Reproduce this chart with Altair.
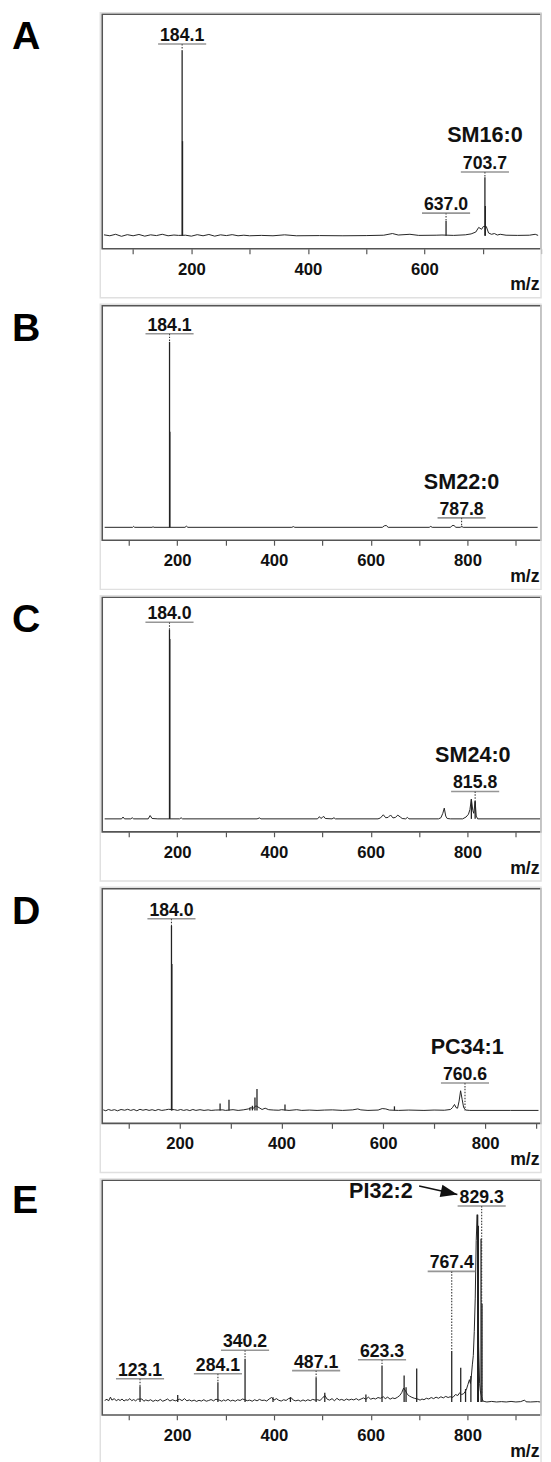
import altair as alt
import pandas as pd

FONT = "Liberation Sans, Arial, Helvetica, sans-serif"
W = 447
H = 239
Y_DOMAIN = [-7, 119.5]

# ---------------- Panel A ----------------
a_base_mz = [50, 60, 70, 80, 90, 100, 110, 120, 130, 140, 150, 160, 170, 178, 190, 200, 210, 220, 230, 240,
             250, 260, 270, 280, 290, 300, 320, 340, 360, 380, 420, 460, 500, 530, 545, 555, 575, 590, 620, 630,
             650, 670, 680, 688, 693, 698, 701, 706, 710, 715, 720, 725, 730, 740, 760, 780, 790, 795]
a_base_int = [0.5, 0, 0.8, -0.3, 0.6, 0, 0.7, -0.2, 0.5, 0.1, 0.8, 0, 0.4, 0.2, 0.3, -0.2, 0.6, 0, 0.7, -0.2,
              0.5, 0.1, 0.6, 0, 0.3, 0, 0.2, 0, 0.5, 0, 0.1, 0, 0.1, 0.3, 1.2, 0.4, 0.8, 0.2, 0.3, 0.4,
              0.2, 0.5, 1.0, 2.0, 4.5, 3.5, 5.0, 5.0, 1.5, 0.8, 1.2, 0.4, 0.8, 0.3, 0.2, 0.3, 0.8, 0.2]
a_peak_mz = [184.1, 184.8, 637.0, 703.7, 704.4]
a_peak_int = [100, 51, 8.0, 31.5, 16]
a_lab_mz = [184.1, 637.0, 703.7]
a_lab_text = ["184.1", "637.0", "703.7"]
a_lab_level = [103.4, 12.2, 34.4]
a_lab_end = [100, 8.0, 31.5]
a_name = ["SM16:0"]
a_name_mz = [703.7]
a_name_level = [50.5]

# ---------------- Panel B ----------------
b_base_mz = [50, 108, 110, 112, 148, 150, 152, 216, 219, 222, 437, 440, 443, 624, 628, 632, 636, 721, 724, 727,
             765, 768, 772, 776, 785, 788, 791, 945]
b_base_int = [0, 0, 0.5, 0, 0, 0.3, 0, 0, 0.6, 0, 0, 0.4, 0, 0, 0.8, 1.0, 0, 0, 0.5, 0,
              0, 0.9, 1.0, 0, 0, 0.5, 0, 0]
b_peak_mz = [184.1, 184.8]
b_peak_int = [100, 51.5]
b_lab_mz = [184.1, 787.8]
b_lab_text = ["184.1", "787.8"]
b_lab_level = [104.4, 5.1]
b_lab_end = [100, 0]
b_name = ["SM22:0"]
b_name_mz = [787.8]
b_name_level = [20.9]

# ---------------- Panel C ----------------
c_base_mz = [50, 85, 88, 91, 104, 107, 110, 140, 144, 148, 160, 205, 208, 211, 365, 370, 373, 490, 494, 497,
             500, 503, 506, 520, 524, 527, 615, 620, 626, 631, 636, 641, 646, 651, 656, 661, 665, 672, 676, 679,
             740, 745, 749, 752, 755, 758, 765, 790, 797, 802, 805, 808, 811, 813, 815.8, 818, 821, 830, 950]
c_base_int = [0, 0, 1.0, 0, 0, 0.6, 0, 0, 1.8, 0.2, 0, 0, 0.6, 0, 0, 0.5, 0, 0, 1.2, 0.2,
              0.8, 1.3, 0.2, 0, 0.6, 0, 0, 0.5, 2.2, 0.6, 0.8, 2.1, 0.5, 0.8, 2.0, 1.0, 0.2, 0, 0.8, 0,
              0, 0.6, 3.0, 5.8, 1.5, 0.2, 0, 0, 1.0, 2.5, 5.0, 10.6, 4.5, 3.0, 9.5, 1.5, 0, 0, 0]
c_peak_mz = [184.0, 184.7, 808.0, 815.8]
c_peak_int = [102, 97, 10.6, 9.5]
c_lab_mz = [184.0, 815.8]
c_lab_text = ["184.0", "815.8"]
c_lab_level = [106, 14.8]
c_lab_end = [102, 9.5]
c_name = ["SM24:0"]
c_name_mz = [811]
c_name_level = [30.4]

# ---------------- Panel D ----------------
d_base_mz = [50, 55, 60, 66, 72, 78, 85, 92, 98, 104, 110, 116, 122, 128, 134, 140, 146, 152, 158, 165,
             172, 178, 190, 196, 202, 208, 214, 220, 226, 232, 240, 248, 256, 262, 270, 285, 290, 305, 315, 325,
             335, 340, 344, 350, 356, 362, 368, 375, 385, 395, 400, 415, 430, 440, 455, 470, 485, 500, 520, 540,
             550, 556, 570, 590, 598, 605, 612, 630, 650, 680, 700, 720, 732, 736, 740, 743, 746, 749, 752, 755,
             758, 762, 770, 850, 905]
d_base_int = [0.3, -0.2, 0.5, 0, 0.4, -0.2, 0.5, 0.1, 0.6, 0, 0.5, -0.2, 0.6, 0.1, 0.5, 0, 0.4, -0.1, 0.5, 0,
              0.3, 0.6, 0.4, 0, 0.5, 0, 0.4, -0.1, 0.5, 0, 0.4, 0, 0.3, 0, 0.2, 0.3, 0, 0.4, 0, 0.3,
              0.8, 1.5, 1.0, 2.5, 1.5, 0.5, 1.2, 0.4, 0.2, 0.1, 0.4, 0, 0.4, 0, 0.2, 0, 0.2, 0.3, 0, 0.3,
              0.8, 0.3, 0, 0.2, 1.0, 0.8, 0.2, 0, 0.2, 0, 0.2, 0.1, 0.5, 1.5, 3.2, 1.5, 1.2, 5.0, 10.6, 6.0,
              1.5, 0.2, 0, 0, 0]
d_peak_mz = [184.0, 184.8, 279.5, 297.0, 338.0, 343.0, 348.0, 352.0, 407.0, 622.0]
d_peak_int = [99.5, 79, 3.7, 5.8, 1.5, 2.5, 7.0, 11.6, 3.2, 2.2]
d_lab_mz = [184.0, 760.6]
d_lab_text = ["184.0", "760.6"]
d_lab_level = [103.3, 14.8]
d_lab_end = [99.5, 0]
d_name = ["PC34:1"]
d_name_mz = [765]
d_name_level = [30.4]

# ---------------- Panel E ----------------
e_base_mz = [50, 55, 58, 62, 65, 70, 74, 78, 82, 86, 90, 94, 98, 102, 106, 110, 114, 118, 127, 131,
             135, 140, 145, 150, 155, 160, 165, 170, 175, 180, 185, 190, 196, 205, 210, 215, 220, 225, 230, 235,
             240, 245, 250, 255, 260, 265, 270, 275, 280, 288, 292, 296, 300, 305, 310, 315, 320, 325, 330, 335,
             345, 350, 355, 360, 365, 370, 375, 380, 385, 390, 395, 400, 405, 410, 415, 420, 425, 430, 436, 440,
             445, 450, 455, 460, 465, 470, 475, 480, 485, 490, 495, 500, 505, 510, 515, 520, 525, 530, 535, 540,
             545, 550, 555, 560, 565, 570, 575, 580, 585, 590, 595, 600, 605, 610, 615, 620, 626, 630, 635, 640,
             645, 650, 655, 660, 664, 668, 672, 676, 680, 685, 690, 698, 702, 706, 710, 715, 720, 725, 730, 735,
             740, 745, 750, 755, 760, 764, 770, 775, 780, 784, 788, 792, 795, 798, 801, 804, 806, 808, 810, 812,
             814, 816, 818, 820, 821.5, 823, 825, 826.5, 828, 830, 832, 836, 840, 850, 860, 870, 880, 890, 900, 910,
             918, 921, 930, 945, 950]
e_base_int = [0.8, 1.5, 0.5, 2.6, 1.0, 1.8, 0.6, 1.4, 0.8, 1.6, 0.5, 1.2, 0.9, 1.8, 0.7, 1.3, 0.6, 1.5, 1.6, 0.4,
              1.1, 0.6, 1.2, 0.3, 1.0, 0.5, 1.4, 0.4, 0.9, 1.6, 0.5, 1.2, 0.6, 1.5, 0.7, 1.8, 0.6, 1.1, 0.5, 1.0,
              0.3, 0.9, 0.5, 1.2, 0.4, 0.8, 1.3, 0.6, 1.5, 0.9, 0.4, 1.1, 0.6, 1.4, 0.5, 1.0, 0.4, 1.2, 0.8, 1.6,
              0.7, 1.0, 0.4, 1.2, 0.6, 1.4, 0.8, 1.0, 0.5, 1.6, 2.4, 1.0, 1.8, 0.9, 0.5, 1.2, 0.8, 1.8, 2.2, 1.0,
              0.6, 1.0, 0.4, 1.1, 0.5, 1.2, 0.7, 1.4, 1.0, 1.2, 0.8, 2.0, 3.5, 1.5, 1.0, 1.8, 0.6, 2.0, 1.0, 1.4,
              0.8, 1.6, 1.0, 1.5, 1.1, 1.8, 1.0, 1.6, 2.2, 1.4, 2.6, 1.5, 2.0, 1.6, 2.4, 2.0, 2.8, 1.8, 2.6, 1.5,
              2.2, 1.8, 2.5, 3.5, 5.0, 7.5, 6.0, 4.0, 3.2, 2.5, 2.0, 1.5, 1.0, 1.6, 1.2, 2.0, 1.6, 2.4, 1.8, 2.6,
              2.0, 2.8, 2.2, 3.0, 2.4, 2.8, 2.5, 4.0, 3.5, 5.0, 4.0, 4.5, 5.5, 7.0, 9.5, 12, 10, 14, 20, 25,
              38, 56, 87, 101, 75, 30, 10, 6, 4, 2, 0.5, 0.2, 0, 0.3, 0, 0.2, 0, 0.3, 0, 0.2,
              1.0, 0.1, 0, 0.2, 0]
e_peak_mz = [123.1, 201.0, 284.1, 340.2, 398.0, 434.0, 487.1, 505.0, 590.0, 623.3, 669.0, 673.0, 695.0,
             767.4, 786.0, 796.0, 807.0, 821.0, 822.5, 828.0, 830.0]
e_peak_int = [8.5, 3.7, 10.6, 23.3, 2.6, 2.6, 13.2, 5.0, 4.0, 19.6, 14.3, 8.0, 18.0,
              27.5, 18.5, 7.0, 14.0, 101, 95, 88, 53]
e_lab_mz = [123.1, 284.1, 340.2, 487.1, 623.3, 767.4, 829.3]
e_lab_text = ["123.1", "284.1", "340.2", "487.1", "623.3", "767.4", "829.3"]
e_lab_level = [12.5, 15.2, 27.9, 16.9, 22.8, 70.4, 105.7]
e_lab_end = [8.5, 10.6, 23.3, 13.2, 19.6, 27.5, 0]
e_name = ["PI32:2"]
e_name_mz = [621]
e_name_level = [109.8]
e_arrow_from = [700, 116.5]
e_arrow_to = [779, 111.9]

letters = ["A", "B", "C", "D", "E"]
domains = [[47, 800], [45, 952], [45, 952], [48, 910], [45, 952]]
tick_values = [[100, 200, 300, 400, 500, 600, 700, 800]] + [[100, 200, 300, 400, 500, 600, 700, 800, 900]] * 4
label_values = [[200, 400, 600], [200, 400, 600, 800], [200, 400, 600, 800], [200, 400, 600, 800], [200, 400, 600, 800]]


def panel(letter, domain, ticks, shown, base_mz, base_int, peak_mz, peak_int,
          lab_mz, lab_text, lab_level, lab_end, name, name_mz, name_level, arrow=None, letter_y=35.5):
    xs = alt.Scale(domain=domain, nice=False, zero=False)
    ys = alt.Scale(domain=Y_DOMAIN, nice=False, zero=False)
    expr = "indexof([" + ",".join(str(v) for v in shown) + "], datum.value) >= 0 ? datum.label : ''"
    ax = alt.Axis(values=ticks, labelExpr=expr, grid=False, domain=False,
                  ticks=True, tickSize=5, tickColor="#555", tickWidth=1.2,
                  labelFont=FONT, labelFontSize=17, labelFontWeight="bold", labelColor="#111",
                  labelBaseline="alphabetic", labelPadding=21, labelFlush=False, labelOverlap=False,
                  title="m/z", titleFont=FONT, titleFontSize=18, titleFontWeight="bold", titleColor="#111",
                  titleX=W - 2, titleY=42, titleAlign="right", titleBaseline="alphabetic")

    def X(f):
        return alt.X(f, type="quantitative", scale=xs, axis=ax)

    def Y(f):
        return alt.Y(f, type="quantitative", scale=ys, axis=None)

    base_df = pd.DataFrame({"mz": base_mz, "v": base_int})
    peak_df = pd.DataFrame({"mz": peak_mz, "v": peak_int})
    peak_df["lo"] = 0
    lab_df = pd.DataFrame({"mz": lab_mz, "t": lab_text, "lv": lab_level, "le": lab_end})
    name_df = pd.DataFrame({"mz": name_mz, "t": name, "lv": name_level})
    letter_df = pd.DataFrame({"t": [letter]})

    frame = alt.Chart(letter_df).mark_rect(fill=None, stroke="#e0e0e0", strokeWidth=1.5).encode(
        x=alt.value(-2), x2=alt.value(W), y=alt.value(-1.5), y2=alt.value(H + 50))
    line = alt.Chart(base_df).mark_line(color="#222", strokeWidth=1, interpolate="linear").encode(
        x=X("mz"), y=Y("v"), order=alt.Order("mz:Q"))
    peaks = alt.Chart(peak_df).mark_rule(color="#222", strokeWidth=1.3).encode(
        x=X("mz"), y=Y("lo"), y2=alt.Y2("v"))
    dots = alt.Chart(lab_df).mark_rule(color="#333", strokeWidth=1.1, strokeDash=[1.5, 1.5]).encode(
        x=X("mz"), y=Y("lv"), y2=alt.Y2("le"))
    under = alt.Chart(lab_df).mark_tick(orient="horizontal", size=49, thickness=1.6, color="#6a6a6a").encode(
        x=X("mz"), y=Y("lv"))
    labs = alt.Chart(lab_df).mark_text(font=FONT, fontSize=18, fontWeight="bold", color="#111",
                                        baseline="alphabetic", align="center", dy=-3).encode(
        x=X("mz"), y=Y("lv"), text="t:N")
    names = alt.Chart(name_df).mark_text(font=FONT, fontSize=22, fontWeight="bold", color="#111",
                                         baseline="alphabetic", align="center").encode(
        x=X("mz"), y=Y("lv"), text="t:N")
    let = alt.Chart(letter_df).mark_text(font=FONT, fontSize=40, fontWeight="bold", color="#000",
                                         baseline="alphabetic", align="left").encode(
        x=alt.value(-92), y=alt.value(letter_y), text="t:N")
    layers = [frame, line, peaks, dots, under, labs, names, let]
    if arrow is not None:
        adf = pd.DataFrame({"ax0": [arrow[0][0]], "ay0": [arrow[0][1]], "ax1": [arrow[1][0]], "ay1": [arrow[1][1]]})
        shaft = alt.Chart(adf).mark_rule(color="#111", strokeWidth=1.6).encode(
            x=X("ax0"), x2=alt.X2("ax1"), y=Y("ay0"), y2=alt.Y2("ay1"))
        head = alt.Chart(adf).mark_point(shape="M0,0 L-2,-0.75 L-2,0.75 Z", filled=True, size=289,
                                         angle=12.6, color="#111", opacity=1).encode(
            x=X("ax1"), y=Y("ay1"))
        layers += [shaft, head]
    return alt.layer(*layers).properties(width=W, height=H)


pA = panel(letters[0], domains[0], tick_values[0], label_values[0], a_base_mz, a_base_int, a_peak_mz, a_peak_int,
           a_lab_mz, a_lab_text, a_lab_level, a_lab_end, a_name, a_name_mz, a_name_level)
pB = panel(letters[1], domains[1], tick_values[1], label_values[1], b_base_mz, b_base_int, b_peak_mz, b_peak_int,
           b_lab_mz, b_lab_text, b_lab_level, b_lab_end, b_name, b_name_mz, b_name_level)
pC = panel(letters[2], domains[2], tick_values[2], label_values[2], c_base_mz, c_base_int, c_peak_mz, c_peak_int,
           c_lab_mz, c_lab_text, c_lab_level, c_lab_end, c_name, c_name_mz, c_name_level)
pD = panel(letters[3], domains[3], tick_values[3], label_values[3], d_base_mz, d_base_int, d_peak_mz, d_peak_int,
           d_lab_mz, d_lab_text, d_lab_level, d_lab_end, d_name, d_name_mz, d_name_level)
pE = panel(letters[4], domains[4], tick_values[4], label_values[4], e_base_mz, e_base_int, e_peak_mz, e_peak_int,
           e_lab_mz, e_lab_text, e_lab_level, e_lab_end, e_name, e_name_mz, e_name_level,
           arrow=(e_arrow_from, e_arrow_to), letter_y=33)

chart = alt.vconcat(pA, pB, pC, pD, pE, spacing=2).resolve_scale(x="independent", y="independent").properties(
    padding={"left": 3, "top": -11.5, "right": 0, "bottom": 0}, background="white"
).configure_view(stroke="#555", strokeWidth=1.6)

chart.save("out.html", embed_options={"renderer": "svg", "actions": False})
